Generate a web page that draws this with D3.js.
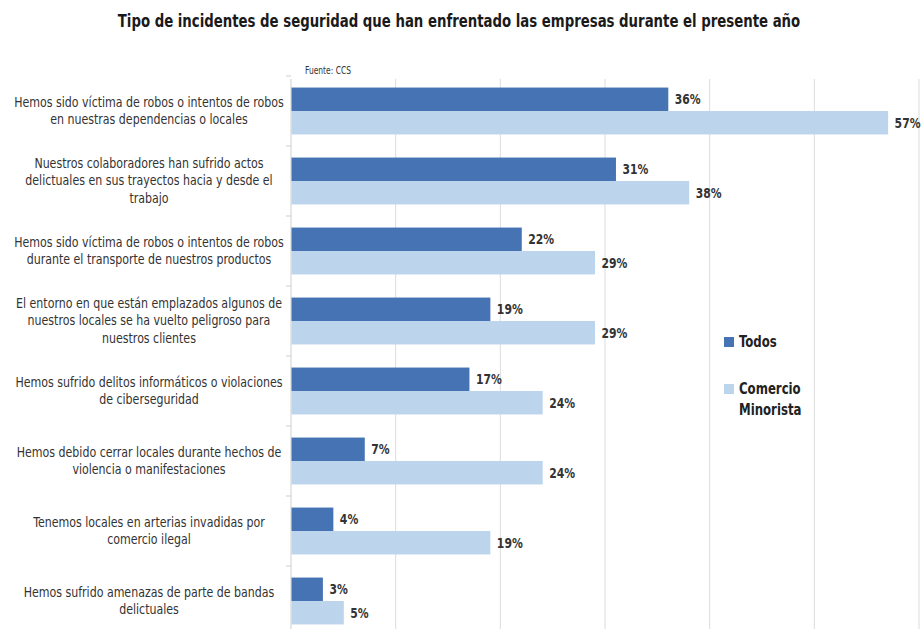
<!DOCTYPE html>
<html>
<head>
<meta charset="utf-8">
<script src="https://cdn.jsdelivr.net/npm/d3@7"></script>
<style>
  html, body { margin: 0; padding: 0; background: #fff; }
  svg { display: block; }
  text { font-family: "DejaVu Sans Condensed", "Liberation Sans Narrow", "Roboto", sans-serif; }
</style>
</head>
<body>
<svg id="chart" width="922" height="629"></svg>
<script>
// Incident categories (each label split into the lines it is drawn on)
const categories = [
  ["Hemos sido víctima de robos o intentos de robos", "en nuestras dependencias o locales"],
  ["Nuestros colaboradores han sufrido actos", "delictuales en sus trayectos hacia y desde el", "trabajo"],
  ["Hemos sido víctima de robos o intentos de robos", "durante el transporte de nuestros productos"],
  ["El entorno en que están emplazados algunos de", "nuestros locales se ha vuelto peligroso para", "nuestros clientes"],
  ["Hemos sufrido delitos informáticos o violaciones", "de ciberseguridad"],
  ["Hemos debido cerrar locales durante hechos de", "violencia o manifestaciones"],
  ["Tenemos locales en arterias invadidas por", "comercio ilegal"],
  ["Hemos sufrido amenazas de parte de bandas", "delictuales"]
];
const seriesNames = ["Todos", "Comercio Minorista"];
const todos = [36, 31, 22, 19, 17, 7, 4, 3];
const comercio = [57, 38, 29, 29, 24, 24, 19, 5];
const xTicks = [0, 10, 20, 30, 40, 50, 60];
const colors = ["#4673b3", "#bcd5ed"];

const svg = d3.select("#chart");
const plotLeft = 291, plotRight = 919, plotTop = 76, plotBottom = 636;

// Squeeze a text horizontally around a fixed x so it reads as a condensed face
function squeeze(sel, factor, ax) {
  sel.attr("transform", `translate(${ax},0) scale(${factor},1) translate(${-ax},0)`);
}

const x = d3.scaleLinear().domain([0, 60]).range([plotLeft, plotRight]);
const y = d3.scaleBand().domain(d3.range(categories.length)).range([plotTop, plotBottom])
  .paddingInner(0.33).paddingOuter(0.165);
const ySub = d3.scaleBand().domain([0, 1]).range([0, y.bandwidth()]);

// Title
const title = svg.append("text")
  .attr("x", 459).attr("y", 27)
  .attr("text-anchor", "middle")
  .attr("font-size", 18).attr("font-weight", "bold").attr("fill", "#1a1a1a")
  .text("Tipo de incidentes de seguridad que han enfrentado las empresas durante el presente año");
squeeze(title, 683 / title.node().getComputedTextLength(), 459);

// Source note
const src = svg.append("text")
  .attr("x", 305).attr("y", 74)
  .attr("font-size", 10.5).attr("fill", "#333")
  .text("Fuente: CCS");
squeeze(src, 0.8, 305);

// Vertical gridlines
svg.append("g").selectAll("line")
  .data(xTicks.filter(d => d > 0))
  .join("line")
  .attr("x1", d => x(d)).attr("x2", d => x(d))
  .attr("y1", 79).attr("y2", 629)
  .attr("stroke", "#dcdcdc").attr("stroke-width", 1);

// Category axis with ticks between groups
const axisG = svg.append("g");
axisG.append("line")
  .attr("x1", plotLeft).attr("x2", plotLeft).attr("y1", 79).attr("y2", 629)
  .attr("stroke", "#cfcfcf");
axisG.selectAll("line.tick")
  .data(d3.range(categories.length + 1))
  .join("line").attr("class", "tick")
  .attr("x1", plotLeft - 5).attr("x2", plotLeft)
  .attr("y1", i => plotTop + i * y.step()).attr("y2", i => plotTop + i * y.step())
  .attr("stroke", "#cfcfcf");

// Category labels, centred in the left margin
const lineH = 17.5, labelX = 149;
const catLabels = axisG.append("g");
catLabels.selectAll("text.cat")
  .data(categories)
  .join("text").attr("class", "cat")
  .attr("text-anchor", "middle")
  .attr("font-size", 13.5).attr("fill", "#333")
  .each(function(lines, i) {
    const cy = y(i) + y.bandwidth() / 2;
    const startY = cy - (lines.length - 1) * lineH / 2 + 4.5;
    d3.select(this).selectAll("tspan").data(lines).join("tspan")
      .attr("x", labelX).attr("y", (d, j) => startY + j * lineH)
      .text(d => d);
  });
const firstLine = catLabels.select("tspan").node().getComputedTextLength();
squeeze(catLabels, 270 / firstLine, labelX);

// Bars and value labels
const valueFactor = 0.86;
const series = [todos, comercio];
series.forEach((vals, s) => {
  const g = svg.append("g");
  g.selectAll("rect")
    .data(vals)
    .join("rect")
    .attr("x", x(0) + 0.5)
    .attr("y", (d, i) => y(i) + ySub(s))
    .attr("width", d => x(d) - x(0))
    .attr("height", ySub.bandwidth())
    .attr("fill", colors[s]);
  g.selectAll("text")
    .data(vals)
    .join("text")
    .attr("x", d => x(d) + 7)
    .attr("y", (d, i) => y(i) + ySub(s) + ySub.bandwidth() / 2 + 5)
    .attr("font-size", 14).attr("font-weight", "bold").attr("fill", "#333")
    .text(d => d + "%")
    .each(function(d) { squeeze(d3.select(this), valueFactor, x(d) + 7); });
});

// Legend
const legend = svg.append("g");
const legendItems = [
  { name: ["Todos"], color: colors[0], y: 337 },
  { name: ["Comercio", "Minorista"], color: colors[1], y: 384 }
];
legendItems.forEach(item => {
  legend.append("rect")
    .attr("x", 724).attr("y", item.y).attr("width", 10).attr("height", 10)
    .attr("fill", item.color);
  const t = legend.append("text")
    .attr("font-size", 15).attr("font-weight", "bold").attr("fill", "#222");
  item.name.forEach((n, j) => {
    t.append("tspan").attr("x", 739).attr("y", item.y + 10 + j * 21).text(n);
  });
  squeeze(t, 0.87, 739);
});
</script>
</body>
</html>
